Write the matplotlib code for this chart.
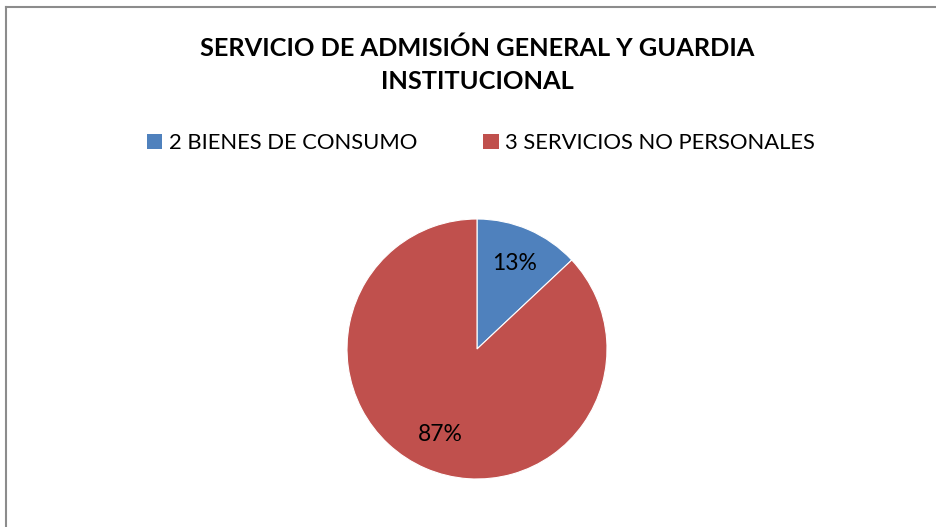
import matplotlib.pyplot as plt
from matplotlib.lines import Line2D
from matplotlib.patches import Patch

categorias = ['2 BIENES DE CONSUMO', '3 SERVICIOS NO PERSONALES']
valores = [13, 87]
colores = ['#4F81BD', '#C0504D']
titulo = 'SERVICIO DE ADMISIÓN GENERAL Y GUARDIA\nINSTITUCIONAL'

plt.rcParams['font.family'] = ['Lato', 'DejaVu Sans']

fig = plt.figure(figsize=(9.37, 5.27), dpi=100)

# pie centred at (477, 349) px, radius 130 px
ax = fig.add_axes([(477 - 130) / 937, 1 - (349 + 130) / 527, 260 / 937, 260 / 527])
wedges, texts, autotexts = ax.pie(valores, colors=colores, startangle=90, counterclock=False,
                                  autopct='%1.0f%%', pctdistance=0.72,
                                  wedgeprops=dict(linewidth=0.8, edgecolor='white'),
                                  textprops=dict(fontsize=16.5, color='black'))
ax.set_xlim(-1, 1)
ax.set_ylim(-1, 1)
ax.set_aspect('equal')

fig.text(477 / 937, 1 - 65 / 527, titulo, ha='center', va='center', fontsize=18.3,
         fontweight='bold', linespacing=1.5)

handles = [Patch(facecolor=c, edgecolor='none') for c in colores]
fig.legend(handles, categorias, loc='center', bbox_to_anchor=(481 / 937, 1 - 143 / 527),
           ncol=2, frameon=False, fontsize=15.8, handlelength=0.7, handleheight=0.7,
           handletextpad=0.3, columnspacing=3.0)

# chart frame (only left and top edges visible)
fig.add_artist(Line2D([6.5 / 937, 6.5 / 937], [0, 1 - 7 / 527], color='#8c8c8c', lw=1.5))
fig.add_artist(Line2D([6.5 / 937, 1], [1 - 7 / 527, 1 - 7 / 527], color='#8c8c8c', lw=1.5))

fig.savefig('out.png', dpi=100)
